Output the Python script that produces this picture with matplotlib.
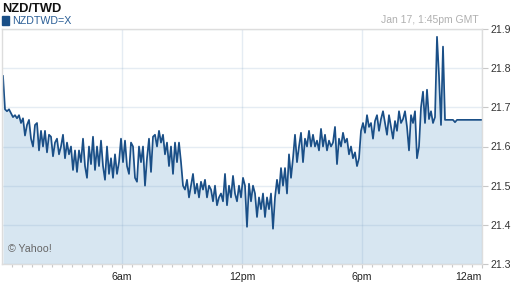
import matplotlib
matplotlib.use("Agg")
import matplotlib.pyplot as plt
import numpy as np

plt.rcParams["font.family"] = ["Liberation Sans", "DejaVu Sans"]

# --- data (hours since midnight, price) ---
h00 = [21.78, 21.695, 21.69, 21.695, 21.685, 21.675, 21.68, 21.672, 21.68, 21.66]
h01 = [21.672, 21.628, 21.655, 21.668, 21.62, 21.60, 21.655, 21.66, 21.59, 21.64]
h02 = [21.60, 21.64, 21.585, 21.63, 21.625, 21.575, 21.61, 21.62, 21.58, 21.60]
h03 = [21.63, 21.57, 21.61, 21.58, 21.60, 21.54, 21.59, 21.535, 21.59, 21.56]
h04 = [21.62, 21.55, 21.52, 21.60, 21.555, 21.625, 21.54, 21.60, 21.55, 21.615]
h05 = [21.55, 21.515, 21.60, 21.53, 21.57, 21.52, 21.58, 21.53, 21.56, 21.62]
h06 = [21.56, 21.615, 21.55, 21.53, 21.61, 21.60, 21.52, 21.51, 21.60, 21.56]
h07 = [21.60, 21.50, 21.57, 21.62, 21.535, 21.625, 21.63, 21.60, 21.64, 21.61]
h08 = [21.63, 21.58, 21.61, 21.55, 21.60, 21.53, 21.61, 21.56, 21.61, 21.56]
h09 = [21.50, 21.49, 21.515, 21.47, 21.50, 21.53, 21.48, 21.505, 21.47, 21.51]
h10 = [21.49, 21.515, 21.47, 21.50, 21.49, 21.46, 21.50, 21.45, 21.47, 21.48]
h11 = [21.46, 21.53, 21.45, 21.50, 21.47, 21.525, 21.48, 21.46, 21.50, 21.47]
h12 = [21.52, 21.50, 21.395, 21.505, 21.46, 21.50, 21.48, 21.42, 21.47, 21.44]
h13 = [21.48, 21.42, 21.47, 21.44, 21.48, 21.39, 21.47, 21.515, 21.48, 21.545]
h14 = [21.50, 21.545, 21.48, 21.58, 21.52, 21.57, 21.63, 21.56, 21.60, 21.635]
h15 = [21.56, 21.62, 21.60, 21.64, 21.60, 21.63, 21.60, 21.615, 21.59, 21.645]
h16 = [21.60, 21.63, 21.59, 21.615, 21.60, 21.61, 21.65, 21.555, 21.62, 21.60]
h17 = [21.635, 21.61, 21.62, 21.58, 21.60, 21.57, 21.585, 21.55, 21.57, 21.64]
h18 = [21.66, 21.635, 21.68, 21.65, 21.66, 21.62, 21.665, 21.68, 21.64, 21.67]
h19 = [21.69, 21.66, 21.63, 21.68, 21.65, 21.62, 21.665, 21.64, 21.69, 21.66]
h20 = [21.67, 21.69, 21.65, 21.59, 21.68, 21.66, 21.69, 21.57, 21.60, 21.70]
h21 = [21.74, 21.66, 21.745, 21.67, 21.69, 21.66, 21.675, 21.88, 21.78, 21.655]
h22 = [21.855, 21.668, 21.668, 21.668, 21.668, 21.668, 21.662, 21.668, 21.668, 21.668]
h23 = [21.668, 21.668, 21.668, 21.668, 21.668, 21.668, 21.668, 21.668, 21.668, 21.668, 21.668]

prices = h00 + h01 + h02 + h03 + h04 + h05 + h06 + h07 + h08 + h09 + h10 + h11 + \
         h12 + h13 + h14 + h15 + h16 + h17 + h18 + h19 + h20 + h21 + h22 + h23
sample_step_h = 0.1
hours = [0.05 + sample_step_h * i for i in range(len(prices) - 1)] + [24.0]

y_ticks = [21.3, 21.4, 21.5, 21.6, 21.7, 21.8, 21.9]
x_tick_pos = [6, 12, 18, 24]
x_tick_labels = ["6am", "12pm", "6pm", "12am"]

title = "NZD/TWD"
series_name = "NZDTWD=X"
stamp = "Jan 17, 1:45pm GMT"

# --- figure ---
W, H = 512, 288
fig = plt.figure(figsize=(W / 100, H / 100), dpi=100)
ax = fig.add_axes([2 / W, (H - 264) / H, 480 / W, 235 / H])

line_c = "#1a4f87"
fill_c = "#d7e6f1"

ax.fill_between(hours, prices, 21.3, color=fill_c, lw=0, zorder=1)
ax.plot(hours, prices, color=line_c, lw=1.25, zorder=3)

ax.set_xlim(0, 24)
ax.set_ylim(21.3, 21.9)

ax.yaxis.tick_right()
ax.set_yticks(y_ticks)
ax.set_yticklabels([f"{v:.1f}" for v in y_ticks])
ax.tick_params(axis="y", length=4, width=0.8, color="#c8c8c8", labelsize=7.6,
               labelcolor="#333333", pad=2)

ax.set_xticks(x_tick_pos)
ax.set_xticklabels(x_tick_labels)
ax.set_xticks(np.arange(0.5, 24, 0.5), minor=True)
ax.tick_params(axis="x", which="major", length=3, width=0.8, color="#c8c8c8",
               labelsize=7.6, labelcolor="#222222", pad=3)
ax.tick_params(axis="x", which="minor", length=2, width=0.8, color="#c8c8c8")
last_lbl = ax.get_xticklabels()[-1]
last_lbl.set_ha("right")

ax.set_axisbelow(False)
ax.grid(True, axis="both", which="major", color="#7fa3c4", alpha=0.2, lw=1.0, zorder=2)

for s in ["top", "left", "right", "bottom"]:
    ax.spines[s].set_color("#dddddd")
    ax.spines[s].set_linewidth(1.0)
    ax.spines[s].set_zorder(4)

fig.text(2 / W, 1 - 2.5 / H, title, ha="left", va="top", fontsize=9.3,
         fontweight="bold", color="#111111")
fig.patches.append(plt.Rectangle((2 / W, 1 - 24.5 / H), 6.5 / W, 8 / H,
                                 transform=fig.transFigure, color=line_c))
fig.text(12 / W, 1 - 20.5 / H, series_name, ha="left", va="center", fontsize=7.7,
         color="#2a5e96")
fig.text(479 / W, 1 - 20 / H, stamp, ha="right", va="center", fontsize=7.5,
         color="#b0b0b0")
ax.text(6 / 480, 10 / 235, "\u00a9 Yahoo!", transform=ax.transAxes, ha="left",
        va="bottom", fontsize=7.7, color="#666666", zorder=5)

fig.savefig("out.png", dpi=100)
